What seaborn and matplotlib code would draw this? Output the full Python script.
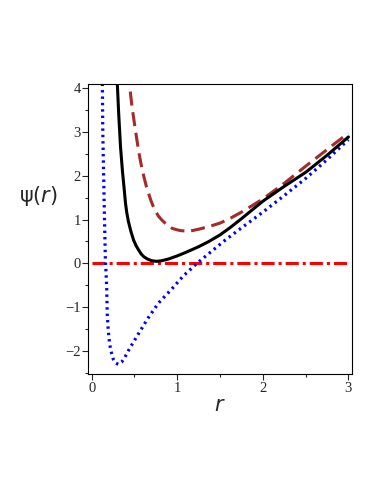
import matplotlib
matplotlib.use("Agg")
import matplotlib.pyplot as plt
import seaborn as sns
import pandas as pd
from matplotlib.ticker import MultipleLocator

# ---- data ----
r_black = [0.295, 0.30, 0.315, 0.337, 0.36, 0.38, 0.395, 0.41, 0.43, 0.46, 0.49,
           0.52, 0.55, 0.58, 0.61, 0.65, 0.70, 0.76, 0.82, 0.90, 1.0, 1.1,
           1.25, 1.37, 1.5, 1.62, 1.75, 2.0, 2.25, 2.5, 2.75, 3.0]
psi_black = [4.35, 4.1, 3.45, 2.67, 2.1, 1.7, 1.38, 1.16, 0.95, 0.72, 0.53,
             0.40, 0.30, 0.21, 0.15, 0.10, 0.06, 0.045, 0.06, 0.10, 0.17, 0.25,
             0.38, 0.50, 0.65, 0.82, 1.02, 1.42, 1.76, 2.08, 2.47, 2.89]

r_brown = [0.425, 0.44, 0.47, 0.51, 0.55, 0.59, 0.64, 0.69, 0.72, 0.75, 0.78,
           0.82, 0.88, 0.94, 1.0, 1.05, 1.11, 1.18, 1.25, 1.37, 1.5, 1.62,
           1.75, 2.0, 2.25, 2.5, 2.75, 3.0]
psi_brown = [4.4, 4.13, 3.6, 3.06, 2.55, 2.14, 1.75, 1.45, 1.30, 1.18, 1.08,
             0.99, 0.88, 0.80, 0.765, 0.745, 0.74, 0.75, 0.78, 0.84, 0.92, 1.03,
             1.17, 1.47, 1.83, 2.22, 2.6, 2.98]

r_blue = [0.122, 0.125, 0.13, 0.14, 0.15, 0.16, 0.175, 0.182, 0.194, 0.207, 0.222,
          0.252, 0.28, 0.311, 0.35, 0.39, 0.44, 0.55, 0.66, 0.78, 0.93, 1.07,
          1.23, 1.33, 1.56, 1.75, 2.0, 2.25, 2.5, 2.75, 3.0]
psi_blue = [4.4, 4.09, 3.0, 2.0, 1.0, 0.1, -0.51, -1.16, -1.54, -1.79, -1.98,
            -2.19, -2.28, -2.31, -2.26, -2.14, -1.96, -1.6, -1.25, -0.91, -0.6, -0.29,
            0.0, 0.16, 0.53, 0.81, 1.17, 1.55, 1.94, 2.37, 2.83]

r_red = [0.0, 3.0]
psi_red = [0.0, 0.0]

x_ticks = [0, 1, 2, 3]
y_ticks = [-2, -1, 0, 1, 2, 3, 4]

# ---- figure ----
sns.set_style("white")
plt.rcParams["font.family"] = ["Liberation Serif", "DejaVu Serif"]
plt.rcParams["mathtext.fontset"] = "dejavusans"

fig = plt.figure(figsize=(3.82, 4.94), dpi=100)
ax = fig.add_axes([0.231, 0.243, 0.690, 0.586])

df_black = pd.DataFrame({"r": r_black, "psi": psi_black})
df_brown = pd.DataFrame({"r": r_brown, "psi": psi_brown})
df_blue = pd.DataFrame({"r": r_blue, "psi": psi_blue})
df_red = pd.DataFrame({"r": r_red, "psi": psi_red})

sns.lineplot(data=df_red, x="r", y="psi", ax=ax, color="#ff0000", lw=2.2,
             sort=False, estimator=None)
ax.lines[-1].set_linestyle((0, (4.3, 1.3, 1.0, 1.3)))

sns.lineplot(data=df_blue, x="r", y="psi", ax=ax, color="#0000ff", lw=2.3,
             sort=False, estimator=None)
ax.lines[-1].set_linestyle((0, (0.75, 1.25)))

sns.lineplot(data=df_brown, x="r", y="psi", ax=ax, color="#a52a2a", lw=2.2,
             sort=False, estimator=None)
ax.lines[-1].set_linestyle((0, (4.6, 2.2)))

sns.lineplot(data=df_black, x="r", y="psi", ax=ax, color="black", lw=2.2,
             sort=False, estimator=None)
ax.lines[-1].set_solid_joinstyle("round")

ax.set_xlim(-0.04, 3.04)
ax.set_ylim(-2.53, 4.09)
ax.set_xticks(x_ticks)
ax.set_yticks(y_ticks)
ax.xaxis.set_minor_locator(MultipleLocator(0.5))
ax.yaxis.set_minor_locator(MultipleLocator(0.5))
ax.tick_params(which="major", direction="out", length=4, width=0.8,
               labelsize=10.5, pad=1.5, left=True, bottom=True)
ax.tick_params(which="minor", direction="out", length=2.5, width=0.8,
               left=True, bottom=True)

for s in ax.spines.values():
    s.set_color("black")
    s.set_linewidth(0.8)

ax.set_xlabel("$r$", fontsize=15, labelpad=2)
ax.set_ylabel("ψ($r$)", fontsize=15, rotation=0, labelpad=0,
              family=["DejaVu Sans"])
ax.yaxis.set_label_coords(-0.19, 0.575)

fig.savefig("out.png", dpi=100)
